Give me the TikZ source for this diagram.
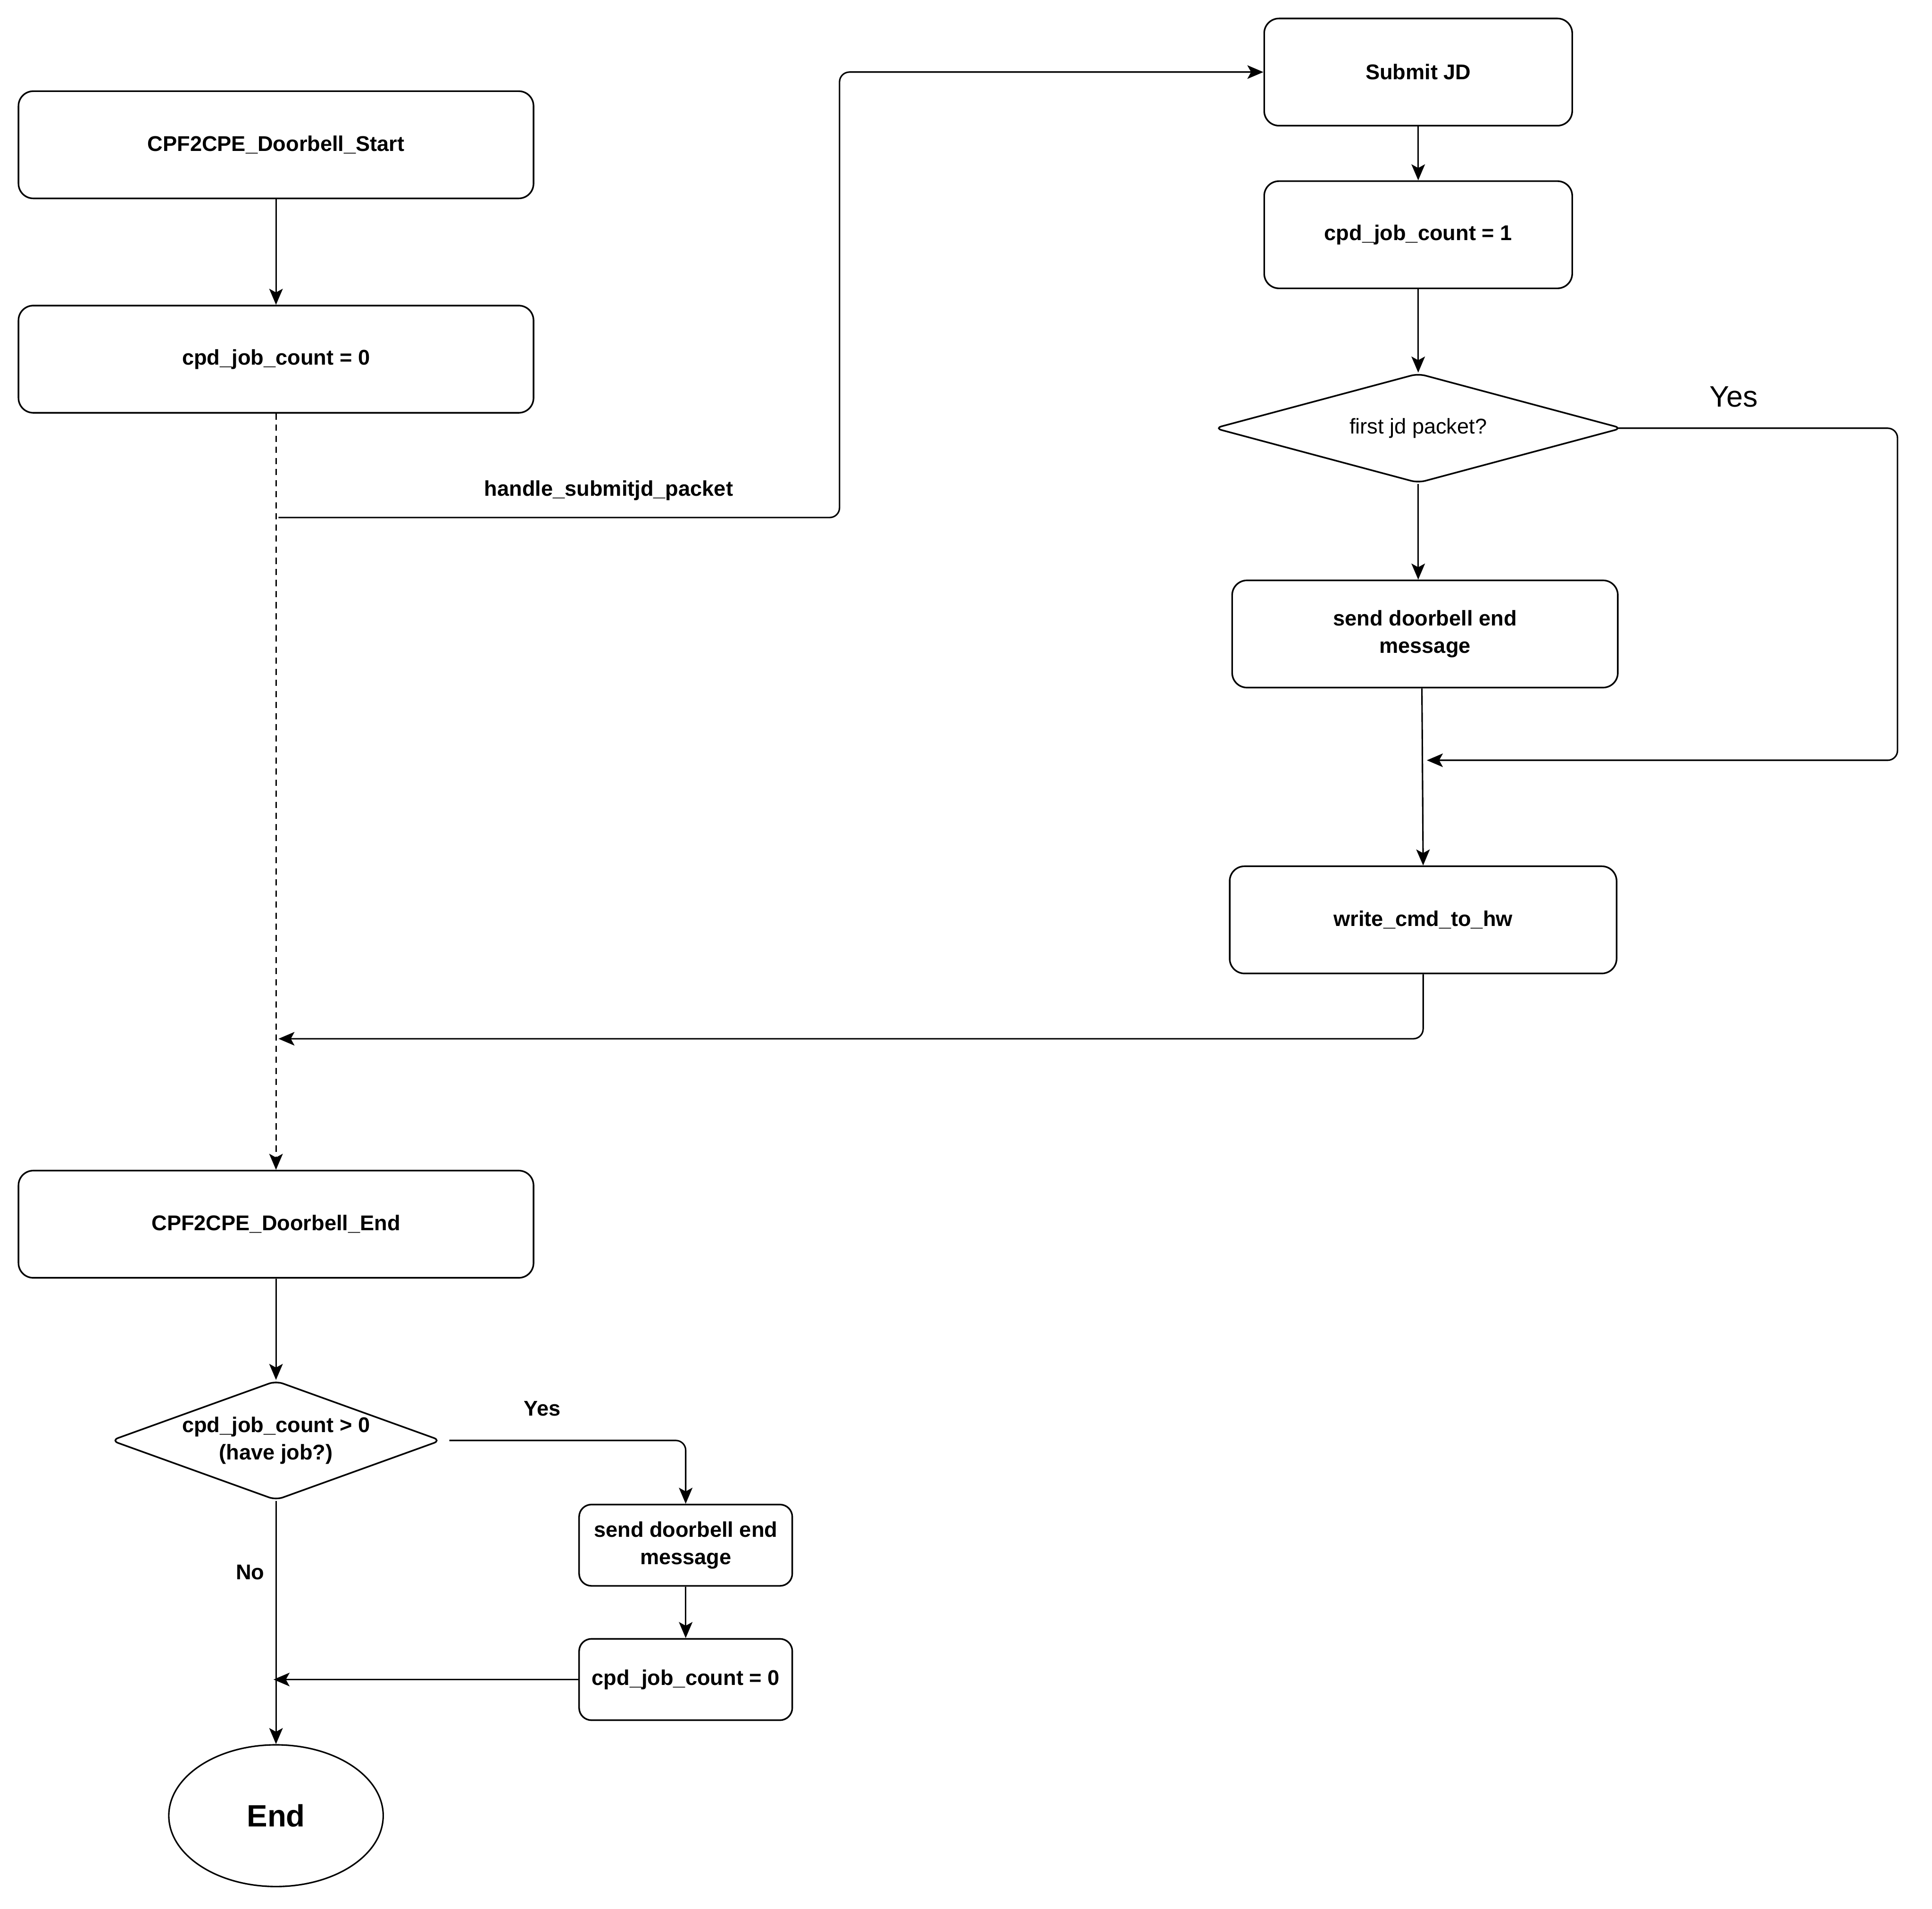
\documentclass[tikz,border=0pt]{standalone}
\usepackage{fontspec}
\setmainfont{Liberation Sans}
\usetikzlibrary{shapes.geometric,arrows.meta}
\begin{document}
\begin{tikzpicture}[x=1pt,y=-1pt,
  font=\fontsize{17.3}{22}\selectfont\bfseries,
  box/.style={draw,rounded corners=12pt,line width=1.3pt,minimum width=418pt,
              minimum height=87pt,align=center,inner sep=0pt},
  sbox/.style={box,minimum width=173pt,minimum height=66pt,rounded corners=10pt},
  dec/.style={draw,diamond,rounded corners=6pt,line width=1.3pt,align=center,inner sep=0pt},
  a/.style={-{Stealth[length=13pt,width=11pt,inset=3pt]},line width=1.2pt,rounded corners=8pt},
  lbl/.style={inner sep=0pt}]
\useasboundingbox (0,0) rectangle (1568,1549);
\node[box] (start) at (224,117.5) {CPF2CPE\_Doorbell\_Start};
\node[box] (cnt0) at (224,291.5) {cpd\_job\_count = 0};
\node[box,minimum width=250pt] (sub) at (1151,58.5) {Submit JD};
\node[box,minimum width=250pt] (cnt1) at (1151,190.5) {cpd\_job\_count = 1};
\node[dec,aspect=3.8,minimum width=331pt,minimum height=89pt,
      font=\fontsize{17.3}{22}\selectfont\mdseries] (first) at (1151,347.5) {first jd packet?};
\node[box,minimum width=313pt] (send) at (1156.5,514.5) {send doorbell end\\message};
\node[box,minimum width=314pt] (write) at (1155,746.5) {write\_cmd\_to\_hw};
\node[box] (stop) at (224,993.5) {CPF2CPE\_Doorbell\_End};
\node[dec,aspect=2.8,minimum width=268pt,minimum height=97pt] (have) at (224,1169)
  {cpd\_job\_count > 0\\(have job?)};
\node[sbox] (send2) at (556.5,1254) {send doorbell end\\message};
\node[sbox] (cnt2) at (556.5,1363) {cpd\_job\_count = 0};
\node[draw,ellipse,line width=1.2pt,minimum width=174pt,minimum height=115pt,
      font=\fontsize{25}{30}\selectfont\bfseries] (fin) at (224,1473.5) {End};
\node[lbl] (hlbl) at (494,398) {handle\_submitjd\_packet};
\node[lbl,font=\fontsize{24}{28}\selectfont\mdseries] (yes1) at (1407,322) {Yes};
\node[lbl] (yes2) at (440,1143) {Yes};
\node[lbl] (no) at (203,1276) {No};
\coordinate (fork) at (226,420);
\coordinate (merge) at (1158,617);
\coordinate (join) at (226,843);
\coordinate (join2) at (222,1363);
\draw[a] (start) -- (cnt0);
\draw[a,dash pattern=on 5pt off 4pt] (cnt0) -- (stop);
\draw[a] (fork) -| ([xshift=-344pt]sub.west) -- (sub.west);
\draw[a] (sub) -- (cnt1);
\draw[a] (cnt1) -- (first);
\draw[a] (first.south) -- (first.south |- send.north);
\draw[a] ([xshift=-4pt]first.east) -| (1540,617) -- (merge);
\draw[a] ([xshift=-2.5pt]send.south) -- (write.north);
\draw[a] (write.south) |- (join);
\draw[a] (stop) -- (have);
\draw[a] ([xshift=6pt]have.east) -| (send2.north);
\draw[a] (send2) -- (cnt2);
\draw[a] (cnt2.west) -- (join2);
\draw[a] (have) -- (fin);
\end{tikzpicture}
\end{document}
